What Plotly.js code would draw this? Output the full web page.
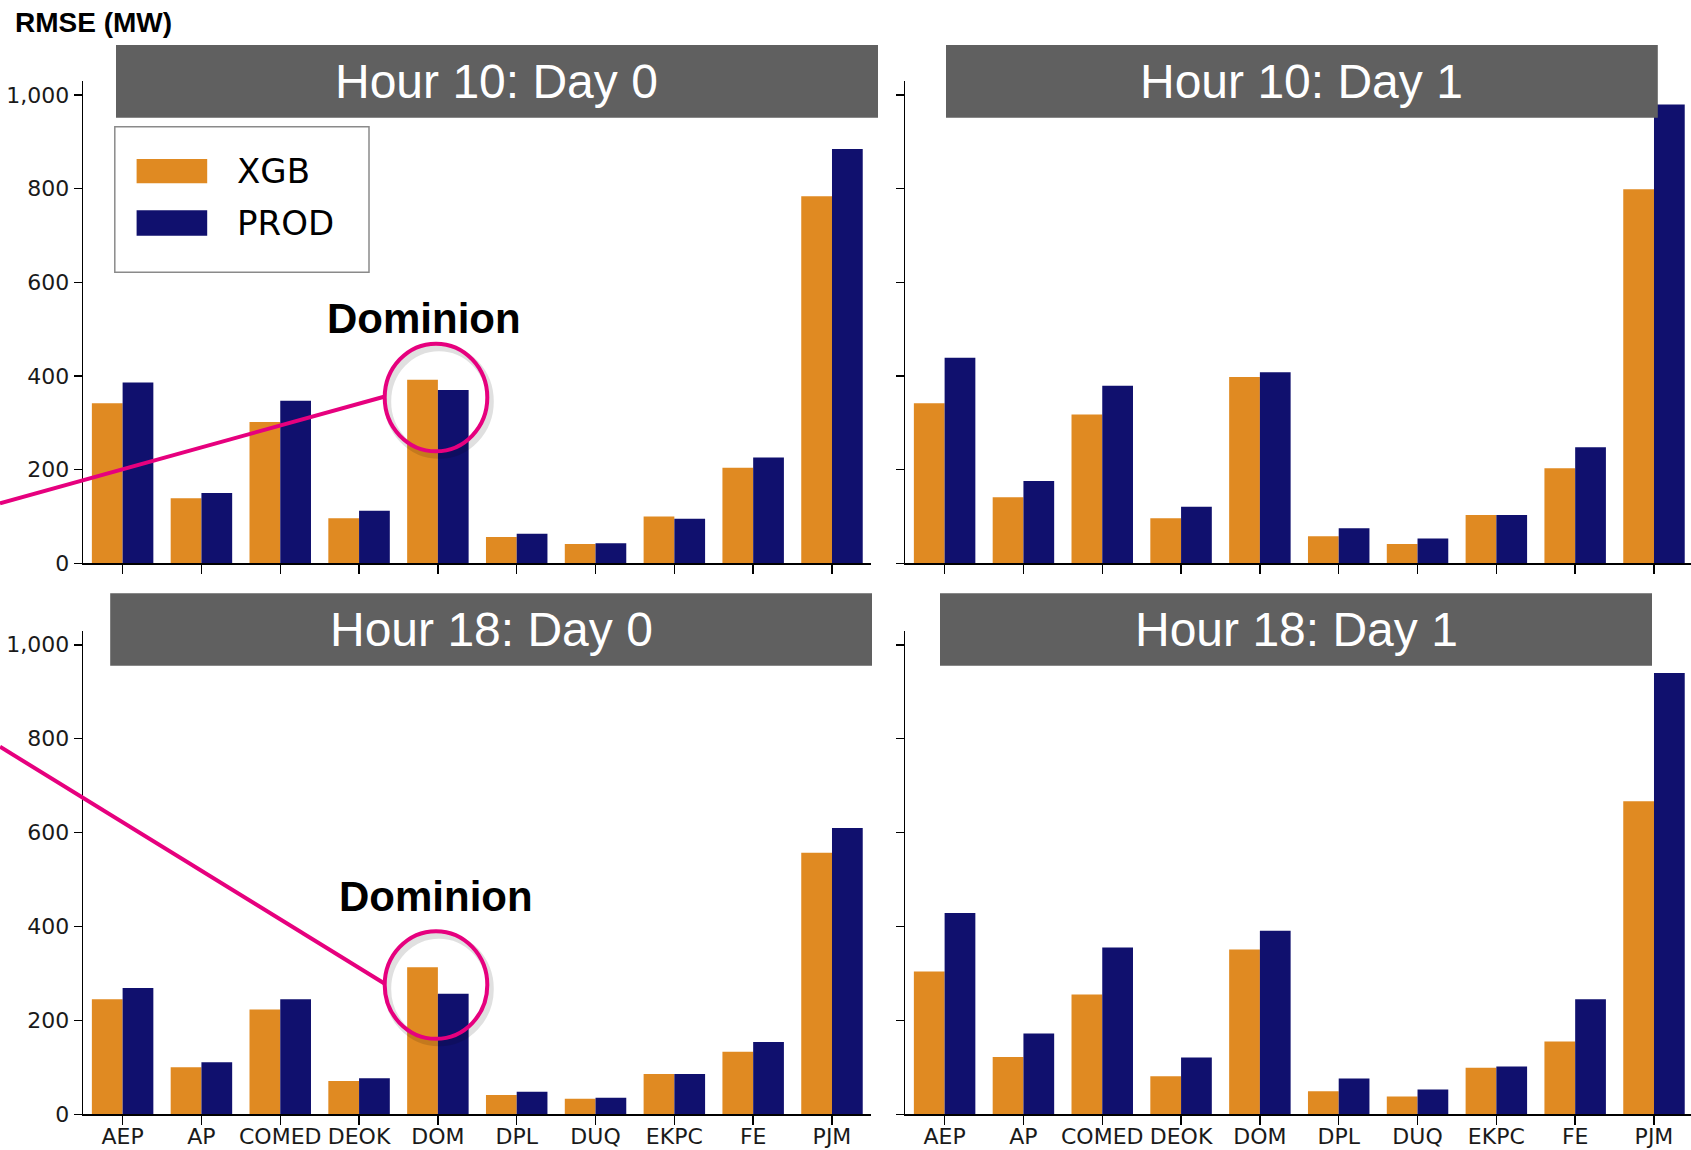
<!DOCTYPE html>
<html>
<head>
<meta charset="utf-8">
<script src="https://cdn.plot.ly/plotly-3.0.1.min.js"></script>
<style>html,body{margin:0;padding:0;background:#fff;}#chart{width:1691px;height:1150px;}</style>
</head>
<body>
<div id="chart"></div>
<script>
// ---- data ----
const categories = ['AEP','AP','COMED','DEOK','DOM','DPL','DUQ','EKPC','FE','PJM'];
const seriesNames = ['XGB','PROD'];
const panelTitles = ['Hour 10: Day 0','Hour 10: Day 1','Hour 18: Day 0','Hour 18: Day 1'];
const yTickVals = [0,200,400,600,800,1000];

const h10d0_xgb  = [342, 139, 302, 96, 392, 56, 41, 100, 204, 784];
const h10d0_prod = [386, 150, 347, 112, 370, 63, 43, 95, 226, 885];
const h10d1_xgb  = [342, 141, 318, 96, 398, 58, 41, 103, 203, 799];
const h10d1_prod = [439, 176, 379, 121, 408, 75, 53, 103, 248, 980];
const h18d0_xgb  = [245, 100, 223, 71, 313, 41, 33, 86, 133, 557];
const h18d0_prod = [269, 111, 245, 77, 257, 48, 35, 86, 154, 610];
const h18d1_xgb  = [304, 122, 255, 81, 351, 49, 38, 99, 155, 667];
const h18d1_prod = [429, 172, 355, 121, 391, 76, 53, 102, 245, 940];

const annotationLabel = 'Dominion';
const yAxisLabel = 'RMSE (MW)';

// ---- styling ----
const W = 1691, H = 1150;
const px = x => x / W;
const py = y => 1 - y / H;
const ORANGE = '#E08A22', NAVY = '#10106E', GRAY = '#606060', MAGENTA = '#E6007E';

const panels = [
  {xa:'x',  ya:'y',  xgb:h10d0_xgb, prod:h10d0_prod},
  {xa:'x2', ya:'y2', xgb:h10d1_xgb, prod:h10d1_prod},
  {xa:'x3', ya:'y3', xgb:h18d0_xgb, prod:h18d0_prod},
  {xa:'x4', ya:'y4', xgb:h18d1_xgb, prod:h18d1_prod}
];

const traces = [];
panels.forEach((p, i) => {
  traces.push({type:'bar', x:categories, y:p.xgb, name:seriesNames[0], xaxis:p.xa, yaxis:p.ya,
    marker:{color:ORANGE, line:{width:0}}, showlegend:false, offsetgroup:'a'});
  traces.push({type:'bar', x:categories, y:p.prod, name:seriesNames[1], xaxis:p.xa, yaxis:p.ya,
    marker:{color:NAVY, line:{width:0}}, showlegend:false, offsetgroup:'b'});
});

const tickFont = {family:'DejaVu Sans', size:22, color:'#1a1a1a'};
function xaxis(domain, range, labels, anchor) {
  return {domain:domain, range:range, type:'category', anchor:anchor,
    showline:true, linecolor:'#000', linewidth:1.5, ticks:'outside', ticklen:9, tickwidth:1.5, tickcolor:'#000',
    ticklabelstandoff:-7,
    showgrid:false, zeroline:false, showticklabels:labels, tickfont:tickFont, fixedrange:true};
}
function yaxis(domain, labels, anchor) {
  return {domain:domain, range:[0,1030], anchor:anchor, tickvals:yTickVals, tickformat:',',
    showline:true, linecolor:'#000', linewidth:1.5, ticks:'outside', ticklen:8, tickwidth:1.5, tickcolor:'#000',
    showgrid:false, zeroline:false, showticklabels:labels, tickfont:tickFont, fixedrange:true};
}

const xL = [px(83.2), px(871.4)];
const xR = [px(905.2), 1];
const yT = [py(563.3), py(81)];
const yB = [py(1114.3), py(630.7)];
const rL = [-0.5, 9.5];
const rR = [-0.5, 9.5 - (1693.4 - 1691) / 78.84];

const shapes = [];
const annotations = [];

// panel title boxes
const boxes = [
  [116, 878, 45, 117.7],
  [946, 1657.8, 45, 117.7],
  [110.2, 872, 593.3, 665.7],
  [940, 1652, 593.3, 665.7]
];
boxes.forEach((b, i) => {
  shapes.push({type:'rect', xref:'paper', yref:'paper', x0:px(b[0]), x1:px(b[1]), y0:py(b[3]), y1:py(b[2]),
    fillcolor:GRAY, line:{width:0}, layer:'above'});
  annotations.push({xref:'paper', yref:'paper', x:px((b[0]+b[1])/2), y:py((b[2]+b[3])/2),
    xanchor:'center', yanchor:'middle', text:panelTitles[i], showarrow:false,
    font:{family:'Liberation Sans, Arial', size:48, color:'#fff'}});
});

// legend (manual, large patches)
shapes.push({type:'rect', xref:'paper', yref:'paper', x0:px(114.8), x1:px(369), y0:py(272.3), y1:py(126.7),
  fillcolor:'#fff', line:{color:'#8a8a8a', width:1.5}, layer:'above'});
shapes.push({type:'rect', xref:'paper', yref:'paper', x0:px(136.6), x1:px(207.2), y0:py(183.3), y1:py(159),
  fillcolor:ORANGE, line:{width:0}, layer:'above'});
shapes.push({type:'rect', xref:'paper', yref:'paper', x0:px(136.6), x1:px(207.2), y0:py(235.7), y1:py(210.3),
  fillcolor:NAVY, line:{width:0}, layer:'above'});
annotations.push({xref:'paper', yref:'paper', x:px(235), y:py(171), xanchor:'left', yanchor:'middle',
  text:seriesNames[0], showarrow:false, font:{family:'DejaVu Sans', size:34, color:'#000'}});
annotations.push({xref:'paper', yref:'paper', x:px(235), y:py(223), xanchor:'left', yanchor:'middle',
  text:seriesNames[1], showarrow:false, font:{family:'DejaVu Sans', size:34, color:'#000'}});

// magenta callouts
function callout(lineStart, lineEnd, cx, cy, rx, ry) {
  shapes.push({type:'line', xref:'paper', yref:'paper', x0:px(lineStart[0]), y0:py(lineStart[1]),
    x1:px(lineEnd[0]), y1:py(lineEnd[1]), line:{color:MAGENTA, width:4}, layer:'above'});
  shapes.push({type:'circle', xref:'paper', yref:'paper', x0:px(cx-rx+3), x1:px(cx+rx+3), y0:py(cy+ry+4), y1:py(cy-ry+4),
    line:{color:'rgba(0,0,0,0.12)', width:7}, layer:'above'});
  shapes.push({type:'circle', xref:'paper', yref:'paper', x0:px(cx-rx), x1:px(cx+rx), y0:py(cy+ry), y1:py(cy-ry),
    line:{color:MAGENTA, width:4}, layer:'above'});
}
callout([0, 503.3], [384, 396.7], 436, 397.5, 51.3, 53.8);
callout([0, 746.7], [384, 983.3], 436, 985, 51.3, 53.8);

annotations.push({xref:'paper', yref:'paper', x:px(424), y:py(318), xanchor:'center', yanchor:'middle',
  text:'<b>'+annotationLabel+'</b>', showarrow:false, font:{family:'Liberation Sans, Arial', size:42, color:'#000'}});
annotations.push({xref:'paper', yref:'paper', x:px(436), y:py(896), xanchor:'center', yanchor:'middle',
  text:'<b>'+annotationLabel+'</b>', showarrow:false, font:{family:'Liberation Sans, Arial', size:42, color:'#000'}});

// y axis label
annotations.push({xref:'paper', yref:'paper', x:px(13), y:py(22.5), xanchor:'left', yanchor:'middle',
  text:'<b>'+yAxisLabel+'</b>', showarrow:false, font:{family:'Liberation Sans, Arial', size:28, color:'#000'}});

const layout = {
  width:W, height:H, margin:{l:0, r:0, t:0, b:0},
  paper_bgcolor:'#fff', plot_bgcolor:'rgba(0,0,0,0)',
  barmode:'group', bargap:0.22, bargroupgap:0,
  showlegend:false,
  xaxis: xaxis(xL, rL, false, 'y'),
  yaxis: yaxis(yT, true, 'x'),
  xaxis2: xaxis(xR, rR, false, 'y2'),
  yaxis2: yaxis(yT, false, 'x2'),
  xaxis3: xaxis(xL, rL, true, 'y3'),
  yaxis3: yaxis(yB, true, 'x3'),
  xaxis4: xaxis(xR, rR, true, 'y4'),
  yaxis4: yaxis(yB, false, 'x4'),
  shapes: shapes,
  annotations: annotations
};

Plotly.newPlot('chart', traces, layout, {displayModeBar:false, staticPlot:true});
</script>
</body>
</html>
